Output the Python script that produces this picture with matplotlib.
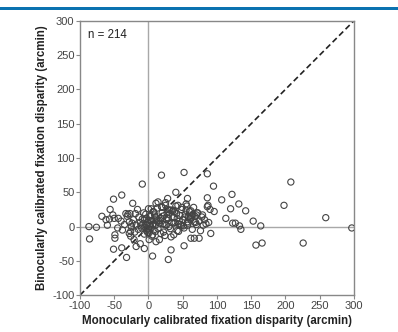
import matplotlib
matplotlib.use("Agg")
import matplotlib.pyplot as plt
from matplotlib.patches import Rectangle

plt.rcParams['font.family'] = ['Liberation Sans', 'DejaVu Sans']
plt.rcParams['axes.unicode_minus'] = False

# monocular (x) / binocular (y) calibrated fixation disparity, arcmin
# scattered points away from the dense centre
outer_mono = [
    -87, -76, -86, -68, -62, -57, -60, -56, -52, -50,
    -51, -39, -44, -49, -49, -51, -39, -32, -33, -31,
    -28, -27, -23, -26, -21, -18, -12, -9, -6, 6,
    1, 11, 11, 16, 19, 23, 25, 28, 29, 33,
    33, 40, 37, 52, 52, 57, 55, 57, 62, 67,
    74, 79, 86, 86, 86, 88, 91, 95, 96, 107,
    113, 122, 120, 123, 127, 132, 133, 135, 142, 153,
    164, 157, 166, 198, 208, 226, 259, 297, 87, 90,
]
outer_bino = [
    0, -1, -18, 15, 10, 11, 2, 25, 17, 12,
    40, 46, 12, -12, -17, -33, -31, -45, 19, 15,
    7, 19, 34, -7, -19, -29, -25, 62, -32, -43,
    -19, 34, -22, -19, 75, 16, 35, 41, -48, -34,
    -15, 50, -12, 79, -28, 41, 24, 7, -17, -17,
    -17, 17, 77, 42, 29, 6, -10, 59, 22, 39,
    12, 47, 26, 5, 5, 33, 1, -4, 23, 8,
    1, -27, -24, 31, 65, -24, 13, -2, 31, 25,
]
# dense cluster around the origin
dense_mono = [
    -2, 0, 2, -5, 4, -1, 3, -3, 1, 6,
    -8, -10, -12, -15, -6, 5, 8, 10, 12, -18,
    -20, -22, -25, -14, -4, 2, 7, 10, 14, 16,
    18, 20, 22, 24, 26, 28, 30, 32, 34, 36,
    38, 40, 42, 44, 46, 48, 50, 52, 54, 56,
    58, 60, 62, 64, 66, 68, 70, 72, 74, 76,
    78, 80, -30, -28, -26, -35, -38, -40, -45, -3,
    1, -7, 4, -11, 9, 13, 17, 21, 25, 29,
    33, 37, 41, 45, 49, 53, 57, 61, 65, 69,
    -16, -24, -9, 15, 27, 35, 43, 51, 59, 67,
    6, 19, 31, 47, 63, 71, -1, 12, 24, 39,
    55, 0, 3, -6, 8, 20, 44, 58, 70, 36,
    48, 27, 14, -19, 62, 82, 84, 5, 18, 30,
    -2, 10, 42, 26,
]
dense_bino = [
    2, -3, 4, -1, -2, 6, 1, -6, -9, 3,
    4, -2, 6, -4, 10, 9, -5, 2, 8, 2,
    -8, 10, 0, 14, 18, 15, 22, 14, -3, 5,
    12, 20, -8, 3, 10, 25, 18, -3, 6, 13,
    22, 30, -6, 4, 16, 25, 10, -2, 18, 30,
    5, 22, 12, -4, 28, 15, 3, 20, 8, -6,
    14, 2, 18, -10, -14, 3, -5, 8, -2, 12,
    9, 20, 26, 1, 17, 27, 9, 4, 31, 12,
    24, 5, 19, 8, 28, 14, 2, 11, 18, 6,
    25, 5, 11, 8, 20, 22, 31, 1, 14, 7,
    -12, 29, 24, 3, 16, 20, -9, 11, -13, 6,
    33, 26, 16, -11, 21, 28, -7, 15, 17, 24,
    1, 13, 36, 19, 23, 10, 4, -14, -10, 0,
    -4, -7, 12, 2,
]
mono = outer_mono + dense_mono
bino = outer_bino + dense_bino
n_text = 'n = 214'
ticks = [-100, -50, 0, 50, 100, 150, 200, 250, 300]

fig = plt.figure(figsize=(3.98, 3.32), dpi=100)
fig.add_artist(Rectangle((0, 0.971), 1, 0.009, transform=fig.transFigure,
                         color='#0b72b0', lw=0))
ax = fig.add_axes([0.201, 0.111, 0.688, 0.826])

ax.axhline(0, color='#a8a8a8', lw=1, zorder=1)
ax.axvline(0, color='#a8a8a8', lw=1, zorder=1)
ax.plot([-100, 300], [-100, 300], color='#222222', lw=1.2, ls=(0, (3.5, 2)), zorder=2)
ax.scatter(mono, bino, s=20, facecolors='none', edgecolors='#444444', linewidths=0.8, zorder=3)

ax.set_xlim(-100, 300)
ax.set_ylim(-100, 300)
ax.set_xticks(ticks)
ax.set_yticks(ticks)
for s in ax.spines.values():
    s.set_color('#888888')
    s.set_linewidth(1)
ax.tick_params(length=3, width=0.8, color='#888888', labelsize=8, labelcolor='#444444', pad=1)
ax.text(-88, 280, n_text, fontsize=8.3, color='#222222', va='center')
ax.set_xlabel('Monocularly calibrated fixation disparity (arcmin)', fontsize=8.3,
              fontweight='bold', color='#222222', labelpad=3)
ax.set_ylabel('Binocularly calibrated fixation disparity (arcmin)', fontsize=8.3,
              fontweight='bold', color='#222222', labelpad=3)

fig.savefig('out.png', dpi=100)
